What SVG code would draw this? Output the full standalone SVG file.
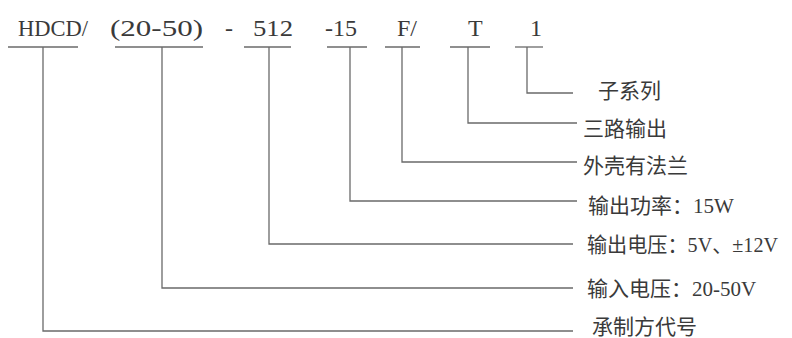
<svg xmlns="http://www.w3.org/2000/svg" width="792" height="338" viewBox="0 0 792 338">
<style>
.code{font-family:"Liberation Serif","Noto Sans CJK SC",serif;font-size:24px;fill:#3a3a3a}
.lbl{font-family:"Liberation Serif","Noto Sans CJK SC",serif;font-size:21px;fill:#3a3a3a}
.ul{stroke:#6a6a6a;stroke-width:1.3;fill:none}
.con polyline{stroke:#6a6a6a;stroke-width:1.3;fill:none}
</style>
<rect width="792" height="338" fill="#ffffff"/>
<g id="seg-hdcd"><text class="code" x="18" y="36" textLength="70" lengthAdjust="spacingAndGlyphs">HDCD/</text><line class="ul" x1="8" y1="47" x2="78" y2="47"/></g>
<g id="seg-input"><text class="code" x="110" y="36" textLength="93" lengthAdjust="spacingAndGlyphs">(20-50)</text><line class="ul" x1="115" y1="47" x2="203" y2="47"/></g>
<g id="seg-dash"><text class="code" x="225" y="36">-</text></g>
<g id="seg-512"><text class="code" x="253" y="36" textLength="40" lengthAdjust="spacingAndGlyphs">512</text><line class="ul" x1="244" y1="47" x2="291" y2="47"/></g>
<g id="seg-15"><text class="code" x="325" y="36">-15</text><line class="ul" x1="327" y1="47" x2="367" y2="47"/></g>
<g id="seg-f"><text class="code" x="397" y="36">F/</text><line class="ul" x1="385" y1="47" x2="420" y2="47"/></g>
<g id="seg-t"><text class="code" x="468" y="36">T</text><line class="ul" x1="450" y1="47" x2="490" y2="47"/></g>
<g id="seg-1"><text class="code" x="530" y="36">1</text><line class="ul" x1="515" y1="47" x2="543" y2="47"/></g>

<g id="connectors" class="con">
<polyline points="527,47 527,93 573,93"/>
<polyline points="468,47 468,123 577,123"/>
<polyline points="402,47 402,162 577,162"/>
<polyline points="350,47 350,201 577,201"/>
<polyline points="269,47 269,244 573,244"/>
<polyline points="162,47 162,288 573,288"/>
<polyline points="43,47 43,331 573,331"/>
</g>

<g id="lbl-sub"><text class="lbl" x="598" y="98">子系列</text></g>
<g id="lbl-three"><text class="lbl" x="583" y="136">三路输出</text></g>
<g id="lbl-flange"><text class="lbl" x="583" y="173">外壳有法兰</text></g>
<g id="lbl-power"><text class="lbl" x="588" y="213">输出功率：15W</text></g>
<g id="lbl-vout"><text class="lbl" x="587" y="252" textLength="191" lengthAdjust="spacingAndGlyphs">输出电压：5V、±12V</text></g>
<g id="lbl-vin"><text class="lbl" x="587" y="296">输入电压：20-50V</text></g>
<g id="lbl-maker"><text class="lbl" x="592" y="334">承制方代号</text></g>
</svg>
